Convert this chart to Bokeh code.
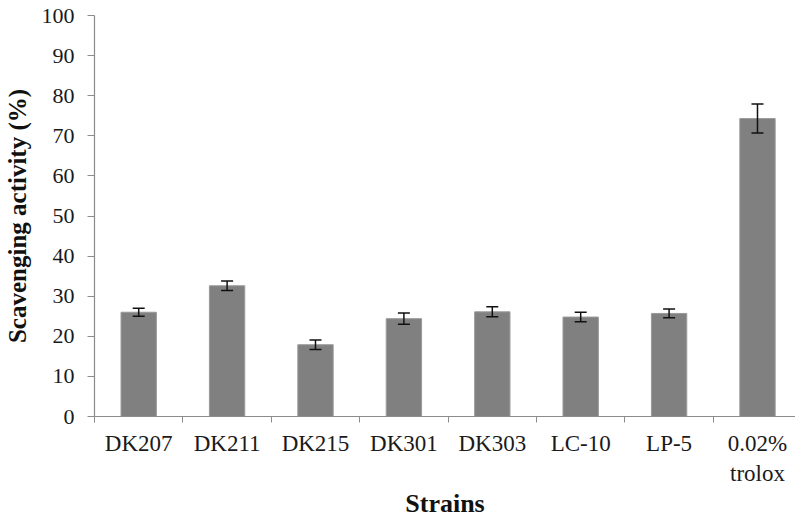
from bokeh.plotting import figure
from bokeh.models import ColumnDataSource, FixedTicker, Whisker, TeeHead, Range1d
from bokeh.embed import file_html
from bokeh.resources import INLINE

categories = ["DK207", "DK211", "DK215", "DK301", "DK303", "LC-10", "LP-5", "0.02%\ntrolox"]
values = [26.0, 32.6, 17.9, 24.4, 26.1, 24.8, 25.7, 74.3]
errors = [1.0, 1.2, 1.2, 1.4, 1.25, 1.2, 1.1, 3.6]

xs = [i + 0.5 for i in range(len(categories))]
src = ColumnDataSource(dict(
    x=xs, top=values,
    upper=[v + e for v, e in zip(values, errors)],
    lower=[v - e for v, e in zip(values, errors)],
))

FONT = "Liberation Serif"
AX = "#8c8c8c"

p = figure(width=795, height=521, output_backend="svg", toolbar_location=None,
           x_range=Range1d(0, 7.93), y_range=Range1d(0, 100),
           min_border_left=93, min_border_right=0, min_border_top=15, min_border_bottom=105)
p.outline_line_color = None
p.xgrid.grid_line_color = None
p.ygrid.grid_line_color = None

p.vbar(x="x", top="top", bottom=0, width=0.4, source=src,
       fill_color="#808080", line_color="#9a9a9a", line_width=1)

w = Whisker(base="x", upper="upper", lower="lower", source=src, level="overlay",
            line_color="#111111", line_width=1.5,
            upper_head=TeeHead(size=12, line_color="#111111", line_width=1.5),
            lower_head=TeeHead(size=12, line_color="#111111", line_width=1.5))
p.add_layout(w)

xa = p.xaxis[0]
xa.ticker = FixedTicker(ticks=xs, minor_ticks=list(range(len(categories) + 1)))
xa.major_label_overrides = {x: c for x, c in zip(xs, categories)}
xa.major_tick_line_color = None
xa.minor_tick_in = 0
xa.minor_tick_out = 6
xa.minor_tick_line_color = AX
xa.axis_line_color = AX
xa.axis_line_width = 1.2
xa.major_label_text_font = FONT
xa.major_label_text_font_size = "23px"
xa.major_label_text_color = "#1a1a1a"
xa.major_label_standoff = 8
xa.axis_label = "Strains"
xa.axis_label_text_font = FONT
xa.axis_label_text_font_style = "bold"
xa.axis_label_text_font_size = "26px"
xa.axis_label_text_color = "#111111"
xa.axis_label_text_line_height = 1.0
xa.axis_label_standoff = 0

ya = p.yaxis[0]
ya.ticker = FixedTicker(ticks=list(range(0, 101, 10)))
ya.minor_tick_line_color = None
ya.major_tick_in = 0
ya.major_tick_out = 7
ya.major_tick_line_color = AX
ya.axis_line_color = AX
ya.axis_line_width = 1.2
ya.major_label_text_font = FONT
ya.major_label_text_font_size = "22px"
ya.major_label_text_color = "#1a1a1a"
ya.major_label_standoff = 13
ya.axis_label = "Scavenging activity (%)"
ya.axis_label_text_font = FONT
ya.axis_label_text_font_style = "bold"
ya.axis_label_text_font_size = "25px"
ya.axis_label_text_color = "#111111"
ya.axis_label_text_line_height = 1.0
ya.axis_label_standoff = 8

open("out.html", "w").write(file_html(p, INLINE))
